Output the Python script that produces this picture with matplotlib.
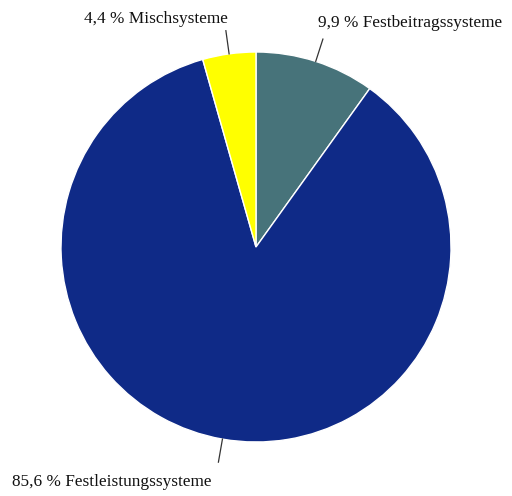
import numpy as np
import matplotlib
matplotlib.use('Agg')
import matplotlib.pyplot as plt

labels = ['Festbeitragssysteme', 'Festleistungssysteme', 'Mischsysteme']
shares = [9.9, 85.6, 4.4]
colors = ['#47737a', '#0f2a87', '#ffff00']

W, H = 512, 496
cx, cy, r = 256, H - 247, 195

plt.rcParams['font.family'] = ['Liberation Serif', 'DejaVu Serif']

fig = plt.figure(figsize=(W / 100, H / 100), dpi=100)
ax = fig.add_axes([0, 0, 1, 1])

wedges, _ = ax.pie(shares, colors=colors, startangle=90, counterclock=False,
                   center=(cx, cy), radius=r,
                   wedgeprops=dict(edgecolor='white', linewidth=1))
# pie() sets its own limits, so set ours afterwards
ax.set_xlim(0, W)
ax.set_ylim(0, H)
ax.set_aspect('equal')
ax.axis('off')

# label text offset (pixels) from the leader line end
shift = [(-5, 8), (-7, -12), (2, 4)]
for w, lab, val, (dx, dy) in zip(wedges, labels, shares, shift):
    ang = np.deg2rad((w.theta1 + w.theta2) / 2)
    u = np.array([np.cos(ang), np.sin(ang)])
    p1 = np.array([cx, cy]) + r * u
    p2 = np.array([cx, cy]) + 1.12 * r * u
    ax.plot([p1[0], p2[0]], [p1[1], p2[1]], color='#333333', lw=0.9)
    ha = 'left' if u[0] > 0 else 'right'
    va = 'bottom' if u[1] > 0 else 'top'
    txt = f'{val:.1f}'.replace('.', ',') + ' % ' + lab
    ax.text(p2[0] + dx, p2[1] + dy, txt, ha=ha, va=va, fontsize=12.4,
            color='#111111')

fig.savefig('out.png', dpi=100)
